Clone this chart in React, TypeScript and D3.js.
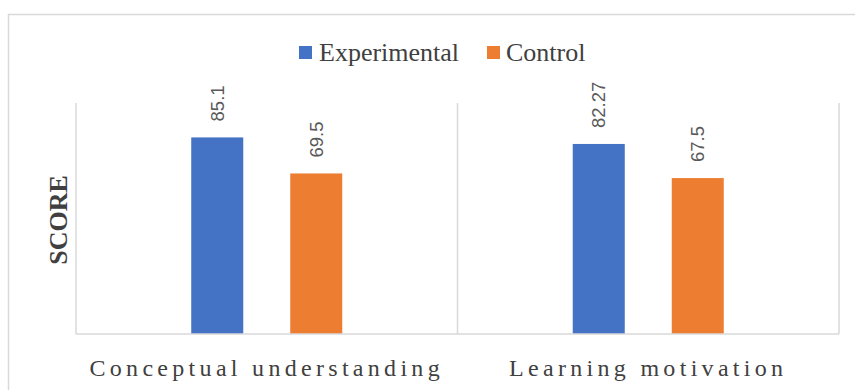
import React from "react";
import * as d3 from "d3";

const categories = ["Conceptual understanding", "Learning motivation"];
const seriesNames = ["Experimental", "Control"];
const experimentalValues = [85.1, 82.27];
const controlValues = [69.5, 67.5];
const seriesColors = ["#4472C4", "#ED7D31"];
const yAxisTitle = "SCORE";

const W = 855;
const H = 390;
const plot = { left: 76, right: 839, top: 103, bottom: 334 };

export default function App() {
  const seriesValues = [experimentalValues, controlValues];
  const x0 = d3
    .scaleBand<string>()
    .domain(categories)
    .range([plot.left, plot.right])
    .padding(0);
  const x1 = d3
    .scaleBand<string>()
    .domain(seriesNames)
    .range([0, x0.bandwidth()])
    .paddingInner(0.4747)
    .paddingOuter(1.164);
  const y = d3.scaleLinear().domain([0, 100]).range([plot.bottom, plot.top]);

  const gridColor = "#D9D9D9";
  const boundaries = [...categories.map((c) => x0(c) as number), plot.right];

  return (
    <svg
      width={W}
      height={H}
      style={{ position: "absolute", left: 0, top: 0, background: "#fff" }}
    >
      <rect x={0} y={0} width={W} height={H} fill="#fff" />
      {/* outer chart border */}
      <rect
        x={8.5}
        y={14.5}
        width={W + 40}
        height={H + 40}
        fill="none"
        stroke={gridColor}
        strokeWidth={1.5}
      />
      {/* legend */}
      <g fontFamily="'Liberation Serif', 'Times New Roman', serif" fontSize={26} fill="#404040">
        <rect x={299} y={46} width={13} height={13} fill={seriesColors[0]} />
        <text x={319} y={60.5}>{seriesNames[0]}</text>
        <rect x={487} y={46} width={13} height={13} fill={seriesColors[1]} />
        <text x={506} y={60.5}>{seriesNames[1]}</text>
      </g>
      {/* vertical gridlines */}
      {boundaries.map((bx, i) => (
        <line
          key={"g" + i}
          x1={bx}
          x2={bx}
          y1={plot.top}
          y2={plot.bottom}
          stroke={gridColor}
          strokeWidth={1.5}
        />
      ))}
      {/* bars */}
      {categories.map((c, ci) => (
        <g key={c} transform={`translate(${x0(c)},0)`}>
          {seriesNames.map((s, si) => {
            const v = seriesValues[si][ci];
            const bx = x1(s) as number;
            const bw = x1.bandwidth();
            const top = y(v);
            return (
              <g key={s}>
                <rect
                  x={bx}
                  y={top}
                  width={bw}
                  height={y(0) - top}
                  fill={seriesColors[si]}
                />
                <text
                  transform={`translate(${bx + bw / 2},${top - 16}) rotate(-90)`}
                  dy="0.36em"
                  textAnchor="start"
                  fontFamily="'Liberation Sans', Arial, sans-serif"
                  fontSize={18.5}
                  fill="#595959"
                >
                  {String(v)}
                </text>
              </g>
            );
          })}
        </g>
      ))}
      {/* x axis line */}
      <line
        x1={plot.left}
        x2={plot.right}
        y1={plot.bottom}
        y2={plot.bottom}
        stroke={gridColor}
        strokeWidth={1.5}
      />
      {/* category labels */}
      {categories.map((c) => (
        <text
          key={"l" + c}
          x={(x0(c) as number) + x0.bandwidth() / 2}
          y={375.5}
          textAnchor="middle"
          fontFamily="'Liberation Serif', 'Times New Roman', serif"
          fontSize={24}
          letterSpacing={4.3}
          fill="#404040"
        >
          {c}
        </text>
      ))}
      {/* y axis title */}
      <text
        transform={`translate(67,220) rotate(-90)`}
        textAnchor="middle"
        fontFamily="'Liberation Serif', 'Times New Roman', serif"
        fontWeight="bold"
        fontSize={26}
        fill="#404040"
      >
        {yAxisTitle}
      </text>
    </svg>
  );
}
